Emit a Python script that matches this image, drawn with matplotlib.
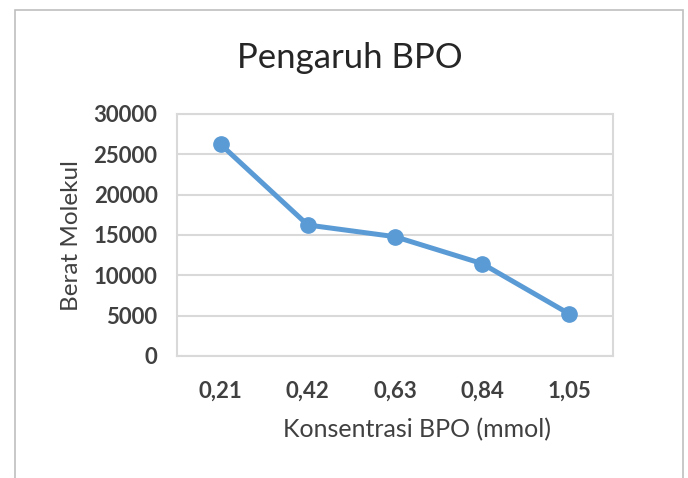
import matplotlib.pyplot as plt
from matplotlib.patches import Rectangle

categories = ["0,21", "0,42", "0,63", "0,84", "1,05"]
berat_molekul = [26240, 16240, 14790, 11450, 5210]
y_ticks = [0, 5000, 10000, 15000, 20000, 25000, 30000]

W, H = 688, 478
fig = plt.figure(figsize=(W / 100, H / 100), dpi=100)
fig.patch.set_facecolor("white")

# chart frame like an Excel chart area
fig.patches.append(Rectangle((15 / W, -0.02), 668 / W, 1 - 10 / H + 0.02,
                             transform=fig.transFigure, fill=False,
                             edgecolor="#BFBFBF", linewidth=1.2))

ax = fig.add_axes([177 / W, 1 - 356 / H, (613 - 177) / W, (356 - 114) / H])
x = list(range(len(categories)))
ax.plot(x, berat_molekul, color="#5B9BD5", linewidth=3.6, marker="o",
        markersize=11, zorder=3)

ax.set_xlim(-0.5, len(categories) - 0.5)
ax.set_ylim(0, 30000)
ax.set_yticks(y_ticks)
ax.set_yticklabels([str(v) for v in y_ticks])
ax.set_xticks(x)
ax.set_xticklabels(categories)
ax.grid(axis="y", color="#D9D9D9", linewidth=1.5)
ax.set_axisbelow(True)
for s in ax.spines.values():
    s.set_color("#D9D9D9")
    s.set_linewidth(1.5)
ax.tick_params(length=0, labelsize=16, labelcolor="#404040")
ax.tick_params(axis="y", pad=14)
ax.tick_params(axis="x", pad=18)
for lab in ax.get_xticklabels() + ax.get_yticklabels():
    lab.set_fontfamily("Lato")
    lab.set_fontweight("bold")

fig.text(350 / W, 1 - 58 / H, "Pengaruh BPO", ha="center", va="center",
         fontsize=25, family="Lato", color="#262626")
fig.text(417 / W, 1 - 430 / H, "Konsentrasi BPO (mmol)", ha="center",
         va="center", fontsize=18, family="Lato", color="#404040")
fig.text(72 / W, 1 - 236 / H, "Berat Molekul", ha="center", va="center",
         rotation=90, fontsize=17.5, family="Lato", color="#404040")

fig.savefig("out.png", dpi=100)
